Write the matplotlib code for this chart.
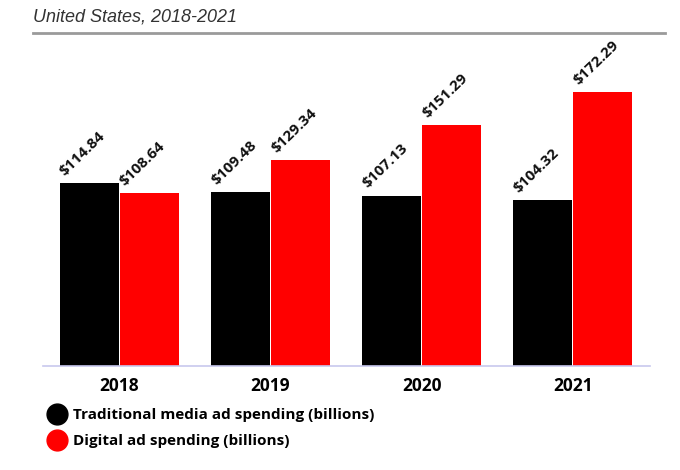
import numpy as np
import matplotlib.pyplot as plt
from matplotlib.lines import Line2D

years = ['2018', '2019', '2020', '2021']
traditional = [114.84, 109.48, 107.13, 104.32]
digital = [108.64, 129.34, 151.29, 172.29]
series_names = ['Traditional media ad spending (billions)', 'Digital ad spending (billions)']
colors = ['#000000', '#ff0000']

plt.rcParams['font.family'] = ['Open Sans', 'DejaVu Sans']

fig = plt.figure(figsize=(6.8, 4.7), dpi=100)
ax = fig.add_axes([43/680, 104/470, 607/680, 326/470])

x = np.arange(len(years))
w = 0.39
b1 = ax.bar(x - w/2 - 0.003, traditional, w, color=colors[0])
b2 = ax.bar(x + w/2 + 0.003, digital, w, color=colors[1])

for bars, vals in [(b1, traditional), (b2, digital)]:
    for r, v in zip(bars, vals):
        ax.text(r.get_x() + 0.05, v + 3, f'\\${v:.2f}', rotation=44,
                rotation_mode='anchor', ha='left', va='bottom',
                fontsize=11, fontweight='bold', color='#111111')

ax.set_xlim(-0.503, 3.51)
ax.set_ylim(0, 205)
ax.set_xticks(x)
ax.set_xticklabels(years, fontsize=12.5, fontweight='bold')
ax.tick_params(axis='x', length=0, pad=8)
ax.set_yticks([])
for s in ['top', 'right', 'left']:
    ax.spines[s].set_visible(False)
ax.spines['bottom'].set_color('#c8c8ee')
ax.spines['bottom'].set_linewidth(1.2)

fig.text(33/680, 1 - 17/470, 'United States, 2018-2021', fontsize=13, style='italic',
         color='#333333', va='center', ha='left',
         family=['Liberation Sans Narrow', 'Liberation Sans', 'DejaVu Sans'])
fig.add_artist(Line2D([33/680, 665/680], [1 - 33/470, 1 - 33/470],
                      color='#9a9a9a', lw=2))

handles = [Line2D([], [], marker='o', ls='none', color=c, markersize=15) for c in colors]
fig.legend(handles, series_names, loc='upper left', bbox_to_anchor=(43/680, 1 - 402/470),
           frameon=False, prop={'weight': 'bold', 'size': 11}, handletextpad=0.55,
           labelspacing=0.8, handlelength=1.0, borderaxespad=0)

fig.savefig('out.png', dpi=100)
